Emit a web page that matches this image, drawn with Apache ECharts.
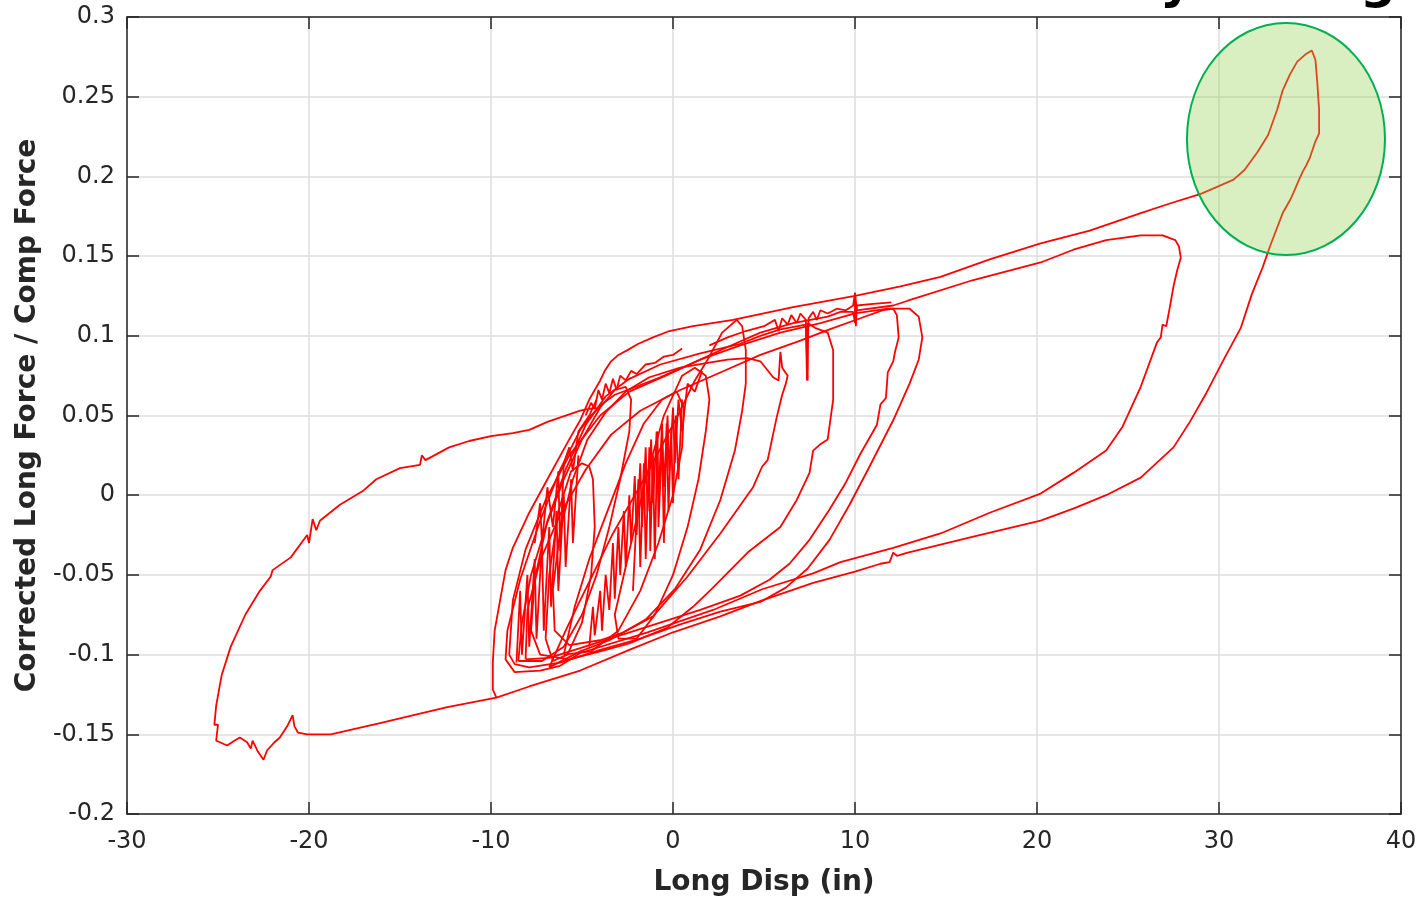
<!DOCTYPE html>
<html>
<head>
<meta charset="utf-8">
<script src="https://cdn.jsdelivr.net/npm/echarts@6/dist/echarts.min.js"></script>
<style>html,body{margin:0;padding:0;background:#fff;}#c{width:1424px;height:899px;}</style>
</head>
<body>
<div id="c"></div>
<script>
// axis ticks
const xTicks = [-30, -20, -10, 0, 10, 20, 30, 40];
const yTicks = [-0.2, -0.15, -0.1, -0.05, 0, 0.05, 0.1, 0.15, 0.2, 0.25, 0.3];
const xTitle = 'Long Disp (in)';
const yTitle = 'Corrected Long Force / Comp Force';

// traced hysteresis segments [Long Disp (in), Force ratio]
const outerLoop = [[-4.2,0.055],[-5.1,0.053],[-6.9,0.046],[-7.9,0.041],[-8.8,0.039],[-10.0,0.037],[-11.2,0.034],[-12.3,0.030],[-13.6,0.022],[-13.8,0.025],[-13.9,0.019],[-15.0,0.017],[-16.3,0.010],[-17.0,0.003],[-18.3,-0.006],[-19.4,-0.016],[-19.6,-0.022],[-19.8,-0.015],[-20.0,-0.030],[-20.1,-0.025],[-21.0,-0.039],[-22.0,-0.047],[-22.1,-0.051],[-22.7,-0.060],[-23.5,-0.075],[-24.3,-0.095],[-24.8,-0.113],[-25.1,-0.132],[-25.2,-0.144],[-25.0,-0.144],[-25.1,-0.154],[-24.9,-0.155],[-24.5,-0.157],[-24.1,-0.154],[-23.8,-0.152],[-23.4,-0.155],[-23.2,-0.159],[-23.1,-0.154],[-22.8,-0.161],[-22.5,-0.166],[-22.3,-0.160],[-21.9,-0.155],[-21.6,-0.152],[-21.2,-0.145],[-20.9,-0.138],[-20.8,-0.145],[-20.6,-0.149],[-20.1,-0.150],[-18.8,-0.150],[-16.1,-0.143],[-12.4,-0.133],[-9.7,-0.127],[-7.9,-0.120],[-5.1,-0.110],[-2.4,-0.097],[0,-0.086],[2.6,-0.076],[4.9,-0.066],[7.7,-0.055],[10,-0.048],[11.4,-0.043],[11.9,-0.042],[12.1,-0.036],[12.3,-0.038],[12.9,-0.036],[14.7,-0.031],[16.5,-0.026],[20.2,-0.016],[22.1,-0.008],[23.8,0.000],[25.7,0.011],[27.5,0.030],[28.4,0.046],[29.3,0.064],[30.3,0.086],[31.2,0.105],[31.8,0.126],[32.4,0.143],[32.8,0.156],[33.5,0.177],[33.9,0.185],[34.1,0.190],[34.2,0.190],[34.4,0.198],[34.6,0.203],[34.7,0.202],[34.8,0.207],[35.0,0.212],[35.3,0.222],[35.5,0.227],[35.5,0.242],[35.4,0.259],[35.3,0.273],[35.1,0.279],[34.8,0.277],[34.3,0.272],[33.9,0.264],[33.5,0.254],[33.2,0.242],[32.7,0.226],[32.1,0.215],[31.4,0.204],[30.8,0.198],[29.8,0.193],[29.0,0.189],[27.3,0.183],[25.7,0.177],[22.9,0.166],[20.2,0.158],[17.4,0.148],[14.7,0.137],[12.5,0.131],[10,0.125],[6.6,0.118],[3.3,0.110],[1.1,0.106],[-0.2,0.103],[-1.1,0.099],[-1.9,0.095],[-2.5,0.091],[-3.0,0.088],[-3.4,0.084],[-3.75,0.078],[-4.0,0.072],[-4.3,0.066],[-4.6,0.060],[-5.1,0.047],[-5.8,0.033],[-6.9,0.010],[-7.9,-0.011],[-8.8,-0.033],[-9.2,-0.047],[-9.5,-0.066],[-9.8,-0.085],[-9.9,-0.105],[-9.9,-0.122],[-9.7,-0.127]];

const loop28 = [[-6.2,-0.107],[-5.1,-0.099],[-1.4,-0.086],[2.2,-0.072],[4.9,-0.059],[7.7,-0.049],[9.2,-0.042],[12.1,-0.033],[14.7,-0.024],[17.4,-0.011],[20.2,0.001],[22.0,0.014],[23.8,0.028],[24.7,0.043],[25.7,0.068],[26.6,0.096],[26.8,0.099],[26.9,0.107],[27.1,0.106],[27.3,0.118],[27.5,0.131],[27.7,0.141],[27.9,0.149],[27.8,0.156],[27.6,0.160],[26.9,0.163],[25.7,0.163],[23.8,0.160],[22.0,0.154],[20.2,0.146],[16.5,0.135],[12.9,0.122],[12.1,0.119],[10.1,0.116],[10.0,0.127],[10.0,0.108],[9.9,0.115],[9.2,0.115],[8.5,0.112],[6.6,0.108],[4.8,0.102],[3.0,0.093],[1.1,0.083],[-0.7,0.074],[-2.5,0.066],[-3.2,0.063],[-3.8,0.058],[-4.5,0.050],[-5.1,0.041],[-6.2,0.016],[-7.3,-0.016],[-8.4,-0.053],[-9.1,-0.085],[-9.2,-0.103],[-8.7,-0.111],[-7.3,-0.110],[-6.2,-0.107]];

const loop13 = [[-9.0,-0.100],[-8.8,-0.066],[-8.1,-0.034],[-7.0,-0.003],[-5.7,0.025],[-4.0,0.050],[-2.4,0.065],[-0.4,0.075],[1.5,0.085],[3.7,0.094],[5.9,0.102],[8.1,0.108],[10,0.114],[11.8,0.117],[13.0,0.117],[13.5,0.112],[13.7,0.099],[13.5,0.085],[13.0,0.070],[12.1,0.047],[10.8,0.018],[9.7,-0.006],[8.6,-0.028],[7.4,-0.046],[6.2,-0.058],[4.8,-0.067],[2.6,-0.073],[0.4,-0.081],[-1.8,-0.090],[-4.0,-0.097],[-6.2,-0.105],[-7.9,-0.108],[-8.7,-0.106],[-9.0,-0.100]];

const loop12 = [[-8.1,-0.103],[-8.0,-0.072],[-7.3,-0.041],[-6.2,-0.012],[-4.8,0.016],[-3.4,0.038],[-1.8,0.053],[0.4,0.066],[2.6,0.077],[4.8,0.088],[7.0,0.097],[8.6,0.104],[10.3,0.111],[11.5,0.116],[12.1,0.117],[12.3,0.113],[12.4,0.099],[12.2,0.090],[12.1,0.084],[11.8,0.077],[11.7,0.061],[11.4,0.057],[11.2,0.044],[10.3,0.026],[9.5,0.008],[8.6,-0.009],[7.5,-0.028],[6.4,-0.043],[5.3,-0.053],[3.7,-0.063],[1.5,-0.072],[-0.7,-0.080],[-2.9,-0.088],[-5.1,-0.096],[-6.8,-0.102],[-8.1,-0.103]];

const loop9 = [[-2.4,-0.093],[-0.3,-0.083],[1.1,-0.070],[2.2,-0.058],[4.1,-0.036],[5.9,-0.020],[6.8,-0.003],[7.5,0.014],[7.7,0.028],[8.1,0.032],[8.5,0.035],[8.8,0.060],[8.8,0.079],[8.8,0.091],[8.5,0.102],[7.8,0.105],[7.4,0.108],[7.4,0.072],[7.3,0.107],[5.9,0.104],[4.8,0.100],[3.7,0.095],[1.5,0.089],[-0.7,0.082],[-2.4,0.073],[-3.7,0.062],[-4.8,0.044],[-5.9,0.016],[-6.9,-0.016],[-7.6,-0.053],[-7.8,-0.085],[-7.3,-0.100],[-5.7,-0.103],[-4.0,-0.098],[-2.4,-0.093]];

const loop7 = [[-2.7,-0.086],[-1.1,-0.076],[0.8,-0.051],[2.6,-0.024],[4.4,0.005],[4.9,0.018],[5.2,0.022],[5.7,0.049],[6.0,0.063],[6.2,0.070],[6.3,0.075],[6.0,0.080],[5.9,0.090],[5.8,0.072],[5.5,0.074],[4.8,0.084],[4.1,0.086],[3.0,0.085],[1.9,0.083],[0.4,0.080],[-1.3,0.074],[-2.6,0.065],[-3.7,0.052],[-4.7,0.035],[-5.5,0.010],[-6.2,-0.022],[-6.6,-0.059],[-6.5,-0.085],[-5.7,-0.094],[-4.0,-0.091],[-2.7,-0.086]];

const loop4 = [[-6.8,-0.108],[-5.9,-0.085],[-5.1,-0.066],[-3.3,-0.024],[-1.4,0.014],[0.4,0.053],[1.2,0.072],[1.9,0.085],[2.7,0.102],[3.5,0.110],[3.8,0.106],[4.0,0.091],[4.0,0.070],[3.8,0.053],[3.4,0.028],[2.6,-0.003],[1.5,-0.034],[0.1,-0.059],[-1.5,-0.078],[-3.5,-0.091],[-5.1,-0.098],[-6.8,-0.108]];

const loopSmallA = [[-7.0,-0.090],[-6.8,-0.050],[-6.3,-0.010],[-5.6,0.015],[-5.0,0.020],[-4.6,0.018],[-4.4,0.010],[-4.3,-0.020],[-4.5,-0.050],[-5.0,-0.080],[-5.8,-0.100],[-6.6,-0.104],[-7.0,-0.090]];

const loopSmallB = [[-2.0,-0.090],[-1.0,-0.075],[0.0,-0.050],[0.8,-0.020],[1.4,0.010],[1.8,0.040],[2.0,0.060],[1.8,0.075],[1.2,0.080],[0.5,0.075],[-0.5,0.050],[-1.5,0.010],[-2.5,-0.040],[-3.2,-0.075],[-3.0,-0.090],[-2.0,-0.090]];

const loopSmallC = [[-8.5,-0.104],[-8.3,-0.080],[-7.8,-0.050],[-7.0,-0.020],[-6.0,0.010],[-5.0,0.035],[-4.0,0.055],[-3.2,0.066],[-2.6,0.068],[-2.3,0.060],[-2.4,0.040],[-2.9,0.010],[-3.5,-0.020],[-4.2,-0.050],[-5.0,-0.075],[-6.0,-0.095],[-7.2,-0.104],[-8.5,-0.104]];

const loopSmallD = [[-6.0,-0.100],[-5.4,-0.070],[-4.6,-0.040],[-3.6,-0.010],[-2.6,0.020],[-1.6,0.045],[-0.6,0.060],[0.2,0.065],[0.6,0.055],[0.5,0.030],[0.0,0.000],[-0.8,-0.030],[-1.8,-0.060],[-3.0,-0.085],[-4.5,-0.098],[-6.0,-0.100]];

const noiseCentre = [[-4.6,-0.095],[-4.4,-0.070],[-4.3,-0.088],[-4.0,-0.060],[-3.9,-0.085],[-3.7,-0.050],[-3.5,-0.072],[-3.3,-0.030],[-3.2,-0.065],[-3.0,-0.020],[-2.9,-0.050],[-2.7,-0.010],[-2.6,-0.045],[-2.4,0.000],[-2.3,-0.030],[-2.1,0.012],[-2.0,-0.025],[-1.8,0.020],[-1.7,-0.020],[-1.5,0.030],[-1.4,-0.010],[-1.2,0.035],[-1.1,-0.005],[-0.9,0.040],[-0.8,0.000],[-0.6,0.045],[-0.5,0.005],[-0.3,0.050],[-0.2,0.015],[0.0,0.055],[0.1,0.020],[0.3,0.060],[0.5,0.040],[0.8,0.070],[1.2,0.065],[1.6,0.078]];

const noiseSpikes = [[-2.2,-0.060],[-1.9,0.010],[-1.8,-0.045],[-1.6,0.020],[-1.5,-0.040],[-1.3,0.030],[-1.25,-0.035],[-1.1,0.025],[-1.0,-0.040],[-0.85,0.040],[-0.8,-0.020],[-0.6,0.035],[-0.5,-0.030],[-0.35,0.045],[-0.25,-0.010],[-0.1,0.040],[0.0,-0.005],[0.15,0.050],[0.3,0.010],[0.5,0.060]];

const noiseLeft = [[-8.6,-0.105],[-8.4,-0.060],[-8.3,-0.100],[-8.0,-0.050],[-7.9,-0.095],[-7.6,-0.040],[-7.5,-0.090],[-7.2,-0.030],[-7.1,-0.085],[-6.8,-0.020],[-6.7,-0.070],[-6.4,-0.010],[-6.3,-0.060],[-6.0,0.000],[-5.9,-0.045],[-5.6,0.010],[-5.5,-0.030],[-5.2,0.025]];

const noiseUpperLeft = [[-7.6,-0.030],[-7.3,-0.005],[-7.2,-0.030],[-6.9,0.005],[-6.6,-0.020],[-6.3,0.015],[-6.2,-0.035],[-6.0,0.020],[-5.7,0.030],[-5.5,0.015],[-5.2,0.040],[-4.9,0.045],[-4.6,0.050],[-4.2,0.060]];

const ridge = [[-4.8,0.050],[-4.5,0.058],[-4.3,0.054],[-4.1,0.066],[-3.9,0.060],[-3.7,0.070],[-3.5,0.064],[-3.3,0.073],[-3.1,0.066],[-2.9,0.075],[-2.6,0.072],[-2.3,0.078],[-2.0,0.076],[-1.5,0.082],[-1.0,0.083],[-0.5,0.087],[0.0,0.088],[0.5,0.092]];

const bundleTop = [[2.0,0.094],[3.0,0.099],[4.0,0.103],[5.0,0.106],[5.6,0.110],[5.8,0.103],[6.0,0.111],[6.3,0.107],[6.5,0.113],[6.8,0.108],[7.0,0.114],[7.3,0.110],[7.36,0.072],[7.45,0.111],[7.7,0.115],[7.9,0.110],[8.1,0.116],[8.5,0.114],[9.0,0.117],[9.5,0.116],[9.9,0.119],[10.0,0.127],[10.05,0.106],[10.1,0.119],[11.0,0.120],[12.0,0.121]];

const segments = [outerLoop, loop28, loop13, loop12, loop9, loop7, loop4, loopSmallA, loopSmallB, loopSmallC, loopSmallD, noiseCentre, noiseSpikes, noiseLeft, noiseUpperLeft, ridge, bundleTop];

// highlight ellipse (data units)
const highlightCentre = [33.68, 0.2235];
const highlightRadius = [5.44, 0.0728];

const axisColor = '#262626';
const font = 'DejaVu Sans';
const fmtY = v => String(parseFloat(v.toFixed(2)));

const chart = echarts.init(document.getElementById('c'), null, {renderer: 'canvas'});
const baseX = {
  type: 'value', min: xTicks[0], max: xTicks[xTicks.length - 1], interval: xTicks[1] - xTicks[0],
  axisLine: {show: true, onZero: false, lineStyle: {color: axisColor, width: 1.5}},
  axisTick: {show: true, inside: true, length: 12, lineStyle: {color: axisColor, width: 1.5}}
};
const baseY = {
  type: 'value', min: yTicks[0], max: yTicks[yTicks.length - 1], interval: 0.05,
  axisLine: {show: true, onZero: false, lineStyle: {color: axisColor, width: 1.5}},
  axisTick: {show: true, inside: true, length: 12, lineStyle: {color: axisColor, width: 1.5}}
};
chart.setOption({
  animation: false,
  backgroundColor: '#fff',
  grid: {left: 127, right: 23, top: 17, bottom: 85, containLabel: false, outerBoundsMode: 'none'},
  xAxis: [
    Object.assign({}, baseX, {
      position: 'bottom',
      axisLabel: {show: true, color: axisColor, fontFamily: font, fontSize: 24, margin: 16},
      splitLine: {show: true, lineStyle: {color: '#dedede', width: 1.5}},
      name: xTitle, nameLocation: 'middle', nameGap: 55,
      nameTextStyle: {color: axisColor, fontFamily: font, fontSize: 28, fontWeight: 'bold'}
    }),
    Object.assign({}, baseX, {position: 'top', axisLabel: {show: false}, splitLine: {show: false}})
  ],
  yAxis: [
    Object.assign({}, baseY, {
      position: 'left',
      axisLabel: {show: true, color: axisColor, fontFamily: font, fontSize: 24, margin: 12, formatter: fmtY},
      splitLine: {show: true, lineStyle: {color: '#dedede', width: 1.5}},
      name: yTitle, nameLocation: 'middle', nameGap: 82,
      nameTextStyle: {color: axisColor, fontFamily: font, fontSize: 28, fontWeight: 'bold'}
    }),
    Object.assign({}, baseY, {position: 'right', axisLabel: {show: false}, splitLine: {show: false}})
  ],
  series: segments.map(seg => ({
    type: 'line', xAxisIndex: 0, yAxisIndex: 0, data: seg,
    showSymbol: false, symbol: 'none', smooth: false, clip: true,
    lineStyle: {color: '#ff0000', width: 1.8}, z: 3
  }))
});

const c = chart.convertToPixel({gridIndex: 0}, highlightCentre);
const e = chart.convertToPixel({gridIndex: 0}, [highlightCentre[0] + highlightRadius[0], highlightCentre[1] + highlightRadius[1]]);
chart.setOption({
  graphic: [
    {type: 'ellipse', z: 100, shape: {cx: c[0], cy: c[1], rx: Math.abs(e[0] - c[0]), ry: Math.abs(c[1] - e[1])},
      style: {fill: 'rgba(146,208,80,0.35)', stroke: '#00b050', lineWidth: 2}},
    {type: 'text', z: 100, left: 1160, top: -40, style: {text: 'y', font: 'bold 50px "DejaVu Sans"', fill: '#000'}},
    {type: 'text', z: 100, left: 1360, top: -40, style: {text: 'g', font: 'bold 50px "DejaVu Sans"', fill: '#000'}}
  ]
});
</script>
</body>
</html>
